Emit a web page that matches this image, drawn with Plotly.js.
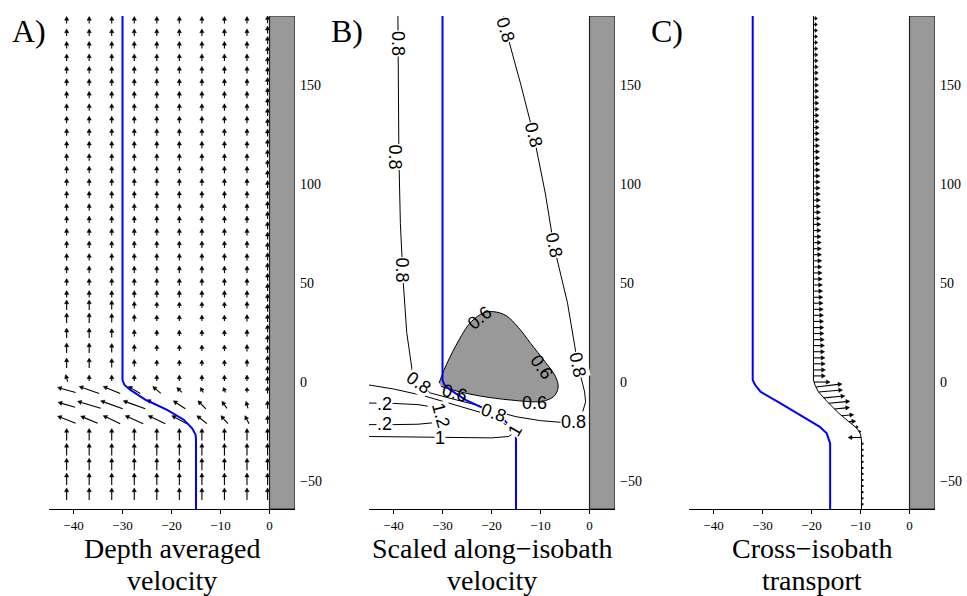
<!DOCTYPE html>
<html><head><meta charset="utf-8">
<script src="https://cdn.plot.ly/plotly-3.0.1.min.js"></script>
<style>body{margin:0;background:#fff}</style>
</head><body><div id="chart" style="width:967px;height:596px"></div>
<script>
// ---------------- DATA ----------------
// isobath (blue) used in panels A and B
const isoX = [-30, -30, -29.6, -28.4, -25.3, -20.9, -17.5, -15.8, -15.1, -15, -15];
const isoY = [184.8, 1, -1.5, -4, -9, -14, -19, -23.4, -26.5, -28.5, -64.1];
// isobath (blue) in panel C
const isoCX = [-32, -32, -31.5, -30.4, -26.4, -21.7, -18.3, -16.9, -16.4, -16.2, -16.2];
const isoCY = [184.8, 1, -1.5, -4.9, -10.7, -17.5, -22.6, -25.9, -29.3, -31, -64.1];
// transport reference line (black) in panel C
const lineCX = [-19.6, -19.6, -19.3, -18.6, -16.8, -14.4, -12.4, -10.7, -10.0, -9.8, -9.8];
const lineCY = [184.8, 1, -1.5, -4.9, -9.9, -15.8, -20, -23.4, -26.3, -29.3, -64.1];

// panel A: depth-averaged velocity arrows (pixel-scaled u, v)
const colsA = [-41.4, -36.8, -32.2, -27.6, -23.0, -18.4, -13.8, -9.2, -4.6];
const rowsUpperFar = [182.8,176.5,170.2,163.9,157.6,151.3,145.0,138.7,132.4,126.1,119.8,113.5,107.2,100.9,94.6,88.3,82.0,75.7,69.4,63.1,56.8,50.5,44.4];
const vUpperFar = [7,7,7,7,7,7,7,7,7];
const rowsUpperNear = [38.9, 32.3, 24.7, 17.2, 9.6];
const vUpperNear = [10,10,9,7,6,6,6,6,7];
// column next to the wall (denser rows)
const wallColX = -0.4;
const rowsWall = [183.0,177.8,172.6,167.4,162.2,157.0,151.8,146.6,141.4,136.2,131.0,125.8,120.6,115.4,110.2,105.0,99.8,94.6,89.4,84.2,79.0,73.8,68.6,63.4,58.2,53.0,47.8,42.6,37.4,32.2,27.0,21.8,16.6,11.4,6.2,1.0];
const vWall = 7.5;
const rowsTrans = [2.0, -4.0, -11.5, -19.0];
const uTrans = [
  [-2, 0, 0, 0, 0, 0, 0, 0, 0],
  [-18, -20, -17, -12, -8, -5, -3, -2, 0],
  [-17, -23, -22, -22, -20, -12, -8, -5, -2],
  [-18, -17, -17, -18, -17, -15, -10, -7, -4]
];
const vTrans = [
  [7, 6, 6, 6, 6, 6, 6, 6, 6],
  [5, 7, 7, 7, 7, 5, 5, 5, 5],
  [5, 7, 8, 8, 10, 8, 8, 7, 7],
  [7, 7, 8, 8, 8, 8, 8, 8, 8]
];
const rowsWallLow = [-4.0, -11.5, -19.0, -26.5, -34.0, -41.5, -49.0, -56.5];
const vWallLow = [7, 8, 8, 12, 12, 12, 12, 12];
const rowsLower = [-26.5, -34.0, -41.5, -49.0, -56.5];
const vLower = [12,12,12,12,12,12,12,12,12];

// panel B: contour lines
const c08X = [-39.1,-39.0,-38.9,-38.6,-38.0,-37.3,-36.2,-35.2,-32.5,-28,-24,-19.5,-15,-10,-6,-3.5,-1.5,-0.8,-1,-1.5,-2.4,-3,-4.5,-7.3,-9,-11.4,-14,-17.1,-17.5];
const c08Y = [184.8,150,114,80,50,25,6,0,-5.5,-8.5,-11,-14.5,-17.5,-19.5,-20.3,-20,-16,-10,-5,0,8.6,18,40,69,95,124.7,150,178,184.8];
const c06X = [-30.7,-29.7,-27.2,-24.2,-21.5,-19.5,-17,-14.5,-12,-9,-7,-6.4,-7.3,-10,-16,-22.2,-27.2,-30.3];
const c06Y = [-0.5,6,18.7,30.3,35,35.5,33.5,27.5,19.5,10,3,-2.5,-7.3,-9.8,-9.1,-7.1,-4.5,-2.2];
const c10X = [-45,-40,-34,-28,-22,-18,-16,-15.3,-16.5,-20,-30,-40,-45];
const c10Y = [-1.5,-3.5,-6.8,-11,-15.5,-20,-23.5,-25.5,-27.5,-28.2,-28,-27.6,-27.5];
const c12X = [-45,-40,-35,-32,-30.3,-30.3,-32,-35,-40,-45];
const c12Y = [-10.6,-10.8,-11.4,-12.6,-14.5,-18.5,-20.6,-21.3,-21.5,-21.5];
// contour labels
const labelX = [-39.2,-39.6,-38.2,-17.1,-11.4,-7.3,-2.4,-3.3,-19.5,-34.8,-22.5,-9.8,-11.3,-27.5,-15.3,-30.5,-43.6,-43.6,-30.3];
const labelY = [171,113.6,56.6,177.8,124.7,69,8.6,-20,-15.8,-0.6,32.5,7.5,-10.8,-5.6,-24.5,-28.2,-10.9,-21.4,-16.5];
const labelT = ['0.8','0.8','0.8','0.8','0.8','0.8','0.8','0.8','0.8','0.8','0.6','0.6','0.6','0.6','1','1','.2','.2','1.2'];
const labelA = [90,90,90,72,75,78,78,0,20,35,-40,55,0,15,-60,0,0,0,75];

// panel C: cross-isobath transport arrows along the line (pixel-scaled)
const yC = [183.6,180.5,177.5,174.4,171.4,168.3,165.2,162.2,159.1,156.1,
  153.0,149.9,146.9,143.8,140.8,137.7,134.6,131.6,128.5,125.5,
  122.4,119.3,116.3,113.2,110.2,107.1,104.0,101.0,97.9,94.9,
  91.8,88.7,85.7,82.6,79.6,76.5,73.4,70.4,67.3,64.3,
  61.2,58.1,55.1,52.0,49.0,45.9,42.8,39.8,36.7,33.7,
  30.6,27.5,24.5,21.4,18.4,15.3,12.2,9.2,6.1,3.1,
  0.0,-2.5,-5.0,-8.0,-10.7,-13.6,-17.0,-20.0,-22.7,-25.0,-28.0];
const uC = [4,4,4.1,4.2,4.3,4.4,4.5,4.6,4.7,4.8,
  4.9,5,5.1,5.2,5.3,5.4,5.5,5.6,5.7,5.8,
  5.9,6,6.1,6.2,6.3,6.4,6.5,6.6,6.7,6.8,
  6.9,7,7.1,7.2,7.4,7.5,7.7,7.8,8,8.1,
  8.3,8.4,8.6,8.8,9,9.2,9.4,9.6,9.8,10,
  10.2,10.4,10.5,10.8,11,11.2,11.5,11.8,12,12,
  16,26,24,21,21,15,12,7,3,2,-13];
const vC = [0,0,0,0,0,0,0,0,0,0, 0,0,0,0,0,0,0,0,0,0, 0,0,0,0,0,0,0,0,0,0,
  0,0,0,0,0,0,0,0,0,0, 0,0,0,0,0,0,0,0,0,0, 0,0,0,0,0,0,0,0,0,0,
  0,3,2,2,2,1.5,1,0.5,0,0,0];
const yDots = [-31.1,-34.2,-37.2,-40.3,-43.4,-46.4,-49.5,-52.5,-55.6,-58.7,-61.7];

const xTicks = [-40,-30,-20,-10,0];
const yTicks = [-50,0,50,100,150];
const panelLetters = ['A)','B)','C)'];
const bottomTitles = [['Depth averaged','velocity'],['Scaled along\u2212isobath','velocity'],['Cross\u2212isobath','transport']];

// ---------------- LAYOUT ----------------
const W = 967, H = 596;
const xRange = [-45, 5.2], yRange = [-64.1, 184.8];
const doms = [[49/W, 295/W], [369/W, 615/W], [689/W, 935/W]];
const yDom = [1 - 509/H, 1 - 16/H];
const pxX = (doms[0][1]-doms[0][0])*W/(xRange[1]-xRange[0]);
const pxY = (yDom[1]-yDom[0])*H/(yRange[1]-yRange[0]);
const serif = 'Liberation Serif, Times New Roman, serif';

const layout = {
  width: W, height: H, margin: {l:0, r:0, t:0, b:0},
  paper_bgcolor: 'white', plot_bgcolor: 'white', showlegend: false,
  annotations: [], shapes: []
};
['', '2', '3'].forEach((s, i) => {
  layout['xaxis'+s] = {domain: doms[i], range: xRange, anchor: 'y'+s, showline: true, linecolor: 'black', linewidth: 1,
    ticks: 'outside', ticklen: 4, tickcolor: 'black', tickvals: xTicks, showgrid: false, zeroline: false,
    tickfont: {family: serif, size: 13, color: 'black'}, fixedrange: true};
  layout['yaxis'+s] = {domain: yDom, range: yRange, anchor: 'x'+s, side: 'right', showline: false, ticks: '',
    tickvals: yTicks, showgrid: false, zeroline: false, ticklabelstandoff: 4,
    tickfont: {family: serif, size: 14, color: 'black'}, fixedrange: true};
  layout.shapes.push({type: 'rect', xref: 'x'+s, yref: 'y'+s, x0: 0, x1: xRange[1], y0: yRange[0], y1: yRange[1],
    fillcolor: '#999999', line: {color: '#222', width: 1.2}, layer: 'above'});
  layout.annotations.push({xref: 'paper', yref: 'paper', x: [10, 329, 649][i]/W, y: 1 - 11/H, xanchor: 'left', yanchor: 'top',
    text: panelLetters[i], showarrow: false, font: {family: serif, size: 32, color: 'black'}});
  const cx = (doms[i][0]+doms[i][1])/2;
  layout.annotations.push({xref: 'paper', yref: 'paper', x: cx, y: 1 - 548/H, xanchor: 'center', yanchor: 'middle',
    text: bottomTitles[i][0], showarrow: false, font: {family: serif, size: 28, color: 'black'}});
  layout.annotations.push({xref: 'paper', yref: 'paper', x: cx, y: 1 - 580/H, xanchor: 'center', yanchor: 'middle',
    text: bottomTitles[i][1], showarrow: false, font: {family: serif, size: 28, color: 'black'}});
});

// arrow geometry built in pixel space via the axis scale factors
function makeArrowStore() { return {sx: [], sy: [], hx: [], hy: []}; }
function addArrow(st, tx, ty, dx, dy) {
  const L = Math.hypot(dx, dy);
  if (L < 0.01) return;
  const ux = dx/L, uy = dy/L;
  const h = Math.min(3.8, 0.6*L), w = Math.min(2.1, 0.35*L + 0.5);
  const bx = dx - h*ux, by = dy - h*uy;
  const P = (px, py) => [tx + px/pxX, ty + py/pxY];
  const t0 = P(0, 0), b = P(bx, by), tip = P(dx, dy), p1 = P(bx - w*uy, by + w*ux), p2 = P(bx + w*uy, by - w*ux);
  st.sx.push(t0[0], b[0], null); st.sy.push(t0[1], b[1], null);
  st.hx.push(tip[0], p1[0], p2[0], tip[0], null); st.hy.push(tip[1], p1[1], p2[1], tip[1], null);
}
const qa = makeArrowStore();
const centred = (gx, gy, u, v) => addArrow(qa, gx - u/2/pxX, gy - v/2/pxY, u, v);
rowsUpperFar.forEach(r => colsA.forEach((c, j) => centred(c, r, 0, vUpperFar[j])));
rowsUpperNear.forEach(r => colsA.forEach((c, j) => centred(c, r, 0, vUpperNear[j])));
rowsTrans.forEach((r, k) => colsA.forEach((c, j) => centred(c, r, uTrans[k][j], vTrans[k][j])));
rowsLower.forEach(r => colsA.forEach((c, j) => centred(c, r, 0, vLower[j])));
rowsWall.forEach(r => centred(wallColX, r, 0, vWall));
rowsWallLow.forEach((r, k) => centred(wallColX, r, 0, vWallLow[k]));

function interpX(xs, ys, y) {
  for (let i = 0; i < ys.length - 1; i++) {
    const a = ys[i], b = ys[i+1];
    if ((y <= a && y >= b) || (y >= a && y <= b)) {
      const t = (a === b) ? 0 : (y - a)/(b - a);
      return xs[i] + t*(xs[i+1]-xs[i]);
    }
  }
  return xs[xs.length-1];
}
const qc = makeArrowStore();
yC.forEach((y, k) => addArrow(qc, interpX(lineCX, lineCY, y), y, uC[k], vC[k]));

// contour labels
labelT.forEach((t, k) => {
  const onGray = t === '0.6';
  layout.annotations.push({xref: 'x2', yref: 'y2', x: labelX[k], y: labelY[k], text: t, textangle: labelA[k],
    xanchor: t === '.2' ? 'left' : 'center',
    showarrow: false, font: {family: 'Liberation Sans, Arial, sans-serif', size: 18, color: 'black'},
    bgcolor: onGray ? 'rgba(0,0,0,0)' : 'white', borderpad: 0});
});

const line = (x, y, xa, ya, color, width, extra) => Object.assign({type: 'scatter', mode: 'lines', x: x, y: y,
  xaxis: xa, yaxis: ya, line: {color: color, width: width}, hoverinfo: 'skip', cliponaxis: true}, extra || {});
const heads = (st, xa, ya) => ({type: 'scatter', mode: 'lines', x: st.hx, y: st.hy, xaxis: xa, yaxis: ya,
  fill: 'toself', fillcolor: 'black', line: {color: 'black', width: 0.5}, hoverinfo: 'skip'});

const traces = [
  line(qa.sx, qa.sy, 'x', 'y', 'black', 1.1),
  heads(qa, 'x', 'y'),
  line(isoX, isoY, 'x', 'y', '#0000ff', 2),
  line(c06X, c06Y, 'x2', 'y2', 'black', 1, {fill: 'toself', fillcolor: '#999999', line: {color: 'black', width: 1, shape: 'spline', smoothing: 1}}),
  line(c08X, c08Y, 'x2', 'y2', 'black', 1),
  line(c10X, c10Y, 'x2', 'y2', 'black', 1),
  line(c12X, c12Y, 'x2', 'y2', 'black', 1),
  line(isoX, isoY, 'x2', 'y2', '#0000ff', 2),
  line(isoCX, isoCY, 'x3', 'y3', '#0000ff', 2),
  line(lineCX, lineCY, 'x3', 'y3', 'black', 1),
  line(qc.sx, qc.sy, 'x3', 'y3', 'black', 1.1),
  heads(qc, 'x3', 'y3'),
  {type: 'scatter', mode: 'markers', x: yDots.map(y => interpX(lineCX, lineCY, y) + 1/pxX), y: yDots,
    xaxis: 'x3', yaxis: 'y3', marker: {color: 'black', size: 2, symbol: 'square'}, hoverinfo: 'skip'}
];

Plotly.newPlot('chart', traces, layout, {staticPlot: true, displayModeBar: false});
</script></body></html>
